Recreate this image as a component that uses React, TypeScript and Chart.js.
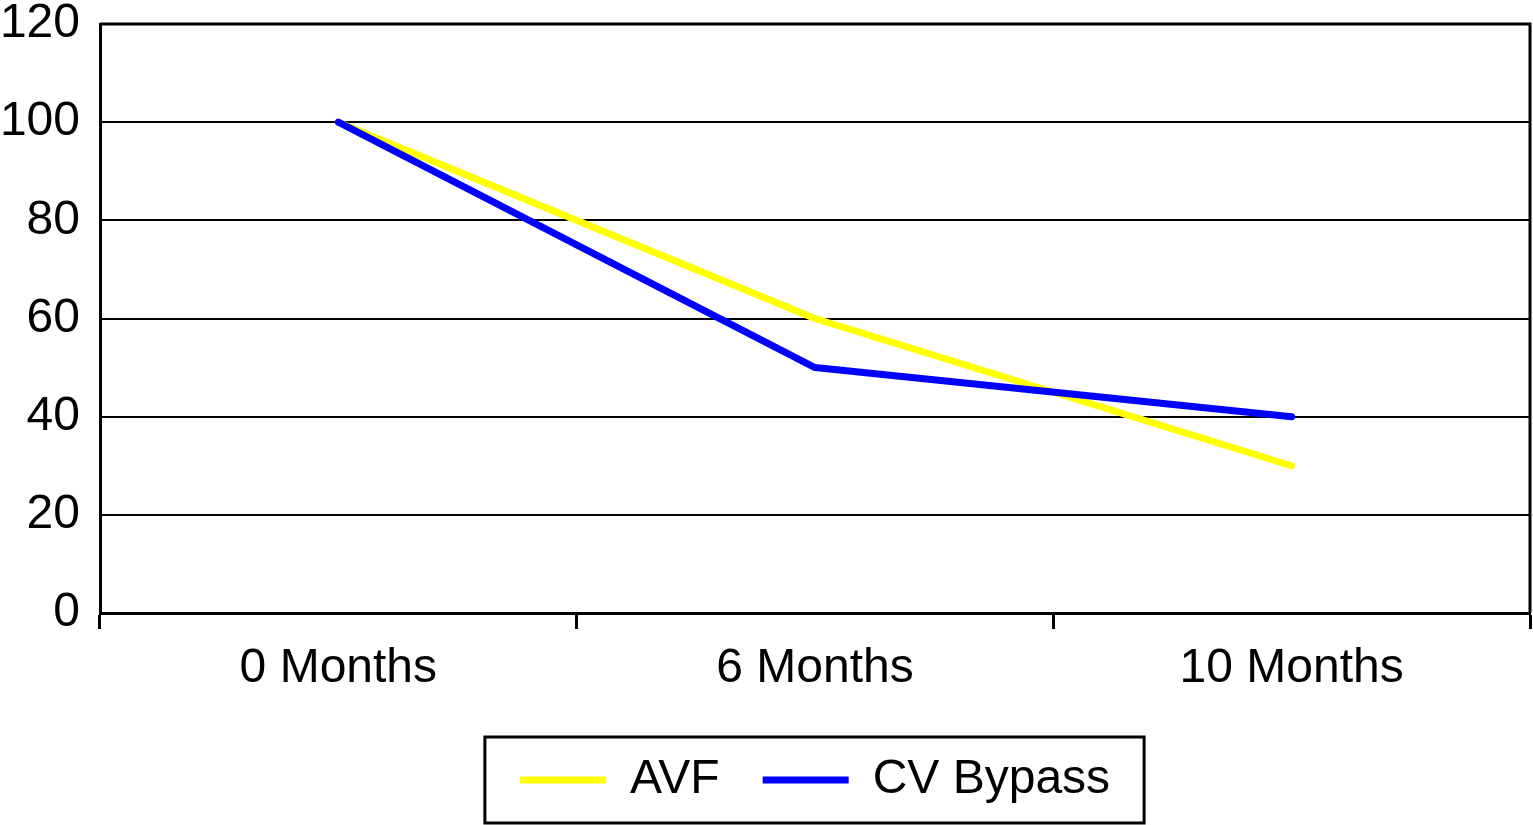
import React, { useEffect, useRef } from "react";
import { Chart, registerables } from "chart.js";

Chart.register(...registerables);

const categories = ["0 Months", "6 Months", "10 Months"];
const avfValues = [100, 60, 30];
const cvBypassValues = [100, 50, 40];
const yMin = 0;
const yMax = 120;
const yStep = 20;

const FONT = '"Liberation Sans", Arial, Helvetica, sans-serif';

const frameBorder = {
  id: "frameBorder",
  afterDatasetsDraw(chart: any) {
    const { ctx, chartArea } = chart;
    ctx.save();
    ctx.strokeStyle = "#000";
    ctx.lineWidth = 3;
    ctx.beginPath();
    ctx.moveTo(chartArea.left, chartArea.top);
    ctx.lineTo(chartArea.right, chartArea.top);
    ctx.lineTo(chartArea.right, chartArea.bottom);
    ctx.stroke();
    ctx.restore();
  },
};

const legendBorder = {
  id: "legendBorder",
  afterDraw(chart: any) {
    const lg = chart.legend;
    if (!lg || !lg.legendHitBoxes || !lg.legendHitBoxes.length) return;
    const hb = lg.legendHitBoxes;
    const first = hb[0];
    const last = hb[hb.length - 1];
    const left = first.left - 35;
    const right = last.left + last.width + 34;
    const top = first.top - 19;
    const bottom = first.top + first.height + 19;
    const { ctx } = chart;
    ctx.save();
    ctx.strokeStyle = "#000";
    ctx.lineWidth = 3;
    ctx.strokeRect(left, top, right - left, bottom - top);
    ctx.restore();
  },
};

export default function App() {
  const canvasRef = useRef<HTMLCanvasElement | null>(null);

  useEffect(() => {
    document.body.style.margin = "0";
    const canvas = canvasRef.current;
    if (!canvas) return;
    const chart = new Chart(canvas, {
      type: "line",
      data: {
        labels: categories,
        datasets: [
          {
            label: "AVF",
            data: avfValues,
            borderColor: "#FFFF00",
            backgroundColor: "#FFFF00",
            borderWidth: 7,
            borderCapStyle: "round",
            borderJoinStyle: "round",
            pointRadius: 0,
            tension: 0,
            order: 1,
          },
          {
            label: "CV Bypass",
            data: cvBypassValues,
            borderColor: "#0000FF",
            backgroundColor: "#0000FF",
            borderWidth: 7,
            borderCapStyle: "round",
            borderJoinStyle: "round",
            pointRadius: 0,
            tension: 0,
            order: 0,
          },
        ],
      },
      options: {
        animation: false,
        responsive: true,
        maintainAspectRatio: false,
        layout: { padding: { top: 24, left: 0, right: 3, bottom: 11 } },
        plugins: {
          tooltip: { enabled: false },
          legend: {
            position: "bottom",
            fullSize: false,
            labels: {
              usePointStyle: true,
              pointStyle: "line",
              pointStyleWidth: 86,
              padding: 43,
              color: "#000",
              font: { family: FONT, size: 48 },
              sort: (a: any, b: any) => a.datasetIndex - b.datasetIndex,
            },
          },
        },
        scales: {
          x: {
            type: "category",
            offset: true,
            afterFit: (scale: any) => {
              scale.height = 100;
            },
            grid: {
              offset: true,
              drawOnChartArea: false,
              drawTicks: true,
              tickLength: 16,
              tickWidth: 3,
              tickColor: "#000",
            },
            border: { display: true, color: "#000", width: 3 },
            ticks: {
              color: "#000",
              padding: 11,
              maxRotation: 0,
              font: { family: FONT, size: 48 },
            },
          },
          y: {
            min: yMin,
            max: yMax,
            afterFit: (scale: any) => {
              scale.width = 100;
              scale.paddingTop = 0;
              scale.paddingBottom = 0;
            },
            grid: {
              drawTicks: false,
              color: "#000",
              lineWidth: 2,
            },
            border: { display: true, color: "#000", width: 3 },
            ticks: {
              stepSize: yStep,
              color: "#000",
              padding: 20,
              font: { family: FONT, size: 48, lineHeight: 1 },
            },
          },
        },
      },
      plugins: [frameBorder, legendBorder],
    });
    return () => chart.destroy();
  }, []);

  return (
    <div style={{ width: "1533px", height: "825px", position: "relative" }}>
      <canvas ref={canvasRef} />
    </div>
  );
}
